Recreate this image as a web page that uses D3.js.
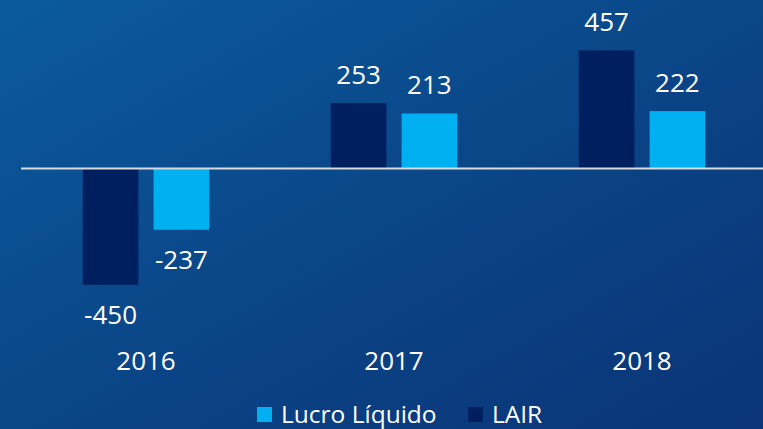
<!DOCTYPE html>
<html lang="en">

<head>
    <meta charset="utf-8">
    <style>
        body { margin: 0; overflow: hidden; }
        text { font-family: "Open Sans", sans-serif; fill: #fff; }
    </style>
</head>

<body>
    <script src="https://d3js.org/d3.v7.min.js"></script>
    <div id="my_dataviz"></div>
    <script>
        // data
        var years = ["2016", "2017", "2018"];
        var series = ["LAIR", "Lucro Líquido"];
        var lair = [-450, 253, 457];
        var lucro = [-237, 213, 222];
        var legendOrder = ["Lucro Líquido", "LAIR"];

        var colors = { "LAIR": "#001f5e", "Lucro Líquido": "#00b0f0" };

        var width = 763, height = 429;

        var svg = d3.select("#my_dataviz")
            .append("svg")
            .attr("width", width)
            .attr("height", height)

        // background gradient
        var grad = svg.append("defs").append("linearGradient")
            .attr("id", "bg")
            .attr("x1", "0%").attr("y1", "0%")
            .attr("x2", "100%").attr("y2", "100%")
        grad.append("stop").attr("offset", "0%").attr("stop-color", "#0a5b9d")
        grad.append("stop").attr("offset", "55%").attr("stop-color", "#0a4486")
        grad.append("stop").attr("offset", "100%").attr("stop-color", "#0a3477")
        svg.append("rect").attr("width", width).attr("height", height).attr("fill", "url(#bg)")

        var rows = years.map(function (y, i) {
            return { year: y, "LAIR": lair[i], "Lucro Líquido": lucro[i] };
        });

        var x0 = d3.scaleBand()
            .domain(years)
            .range([22, 766])
            .paddingInner(0.49)
            .paddingOuter(0.245)

        var x1 = d3.scaleBand()
            .domain(series)
            .range([0, x0.bandwidth()])
            .paddingInner(0.214)

        var y = d3.scaleLinear()
            .domain([-500, 500])
            .range([297.75, 39.25])

        var groups = svg.append("g")
            .selectAll("g")
            .data(rows)
            .enter()
            .append("g")
            .attr("transform", function (d) { return "translate(" + x0(d.year) + ",0)" })

        var cells = groups.selectAll("g")
            .data(function (d) { return series.map(function (k) { return { key: k, value: d[k] } }) })
            .enter()
            .append("g")

        cells.append("rect")
            .attr("x", function (d) { return x1(d.key) })
            .attr("width", x1.bandwidth())
            .attr("y", function (d) { return y(Math.max(0, d.value)) })
            .attr("height", function (d) { return Math.abs(y(d.value) - y(0)) })
            .style("fill", function (d) { return colors[d.key] })

        cells.append("text")
            .attr("x", function (d) { return x1(d.key) + x1.bandwidth() / 2 })
            .attr("y", function (d) { return d.value >= 0 ? y(d.value) - 19 : y(d.value) + 39 })
            .attr("text-anchor", "middle")
            .style("font-size", "26px")
            .text(function (d) { return d.value })

        // zero line
        svg.append("line")
            .attr("x1", 21).attr("x2", 763)
            .attr("y1", y(0)).attr("y2", y(0))
            .style("stroke", "#d9d9d9")
            .style("stroke-width", 2)

        // category labels
        svg.append("g")
            .selectAll("text")
            .data(years)
            .enter()
            .append("text")
            .attr("x", function (d) { return x0(d) + x0.bandwidth() / 2 })
            .attr("y", 370)
            .attr("text-anchor", "middle")
            .style("font-size", "26px")
            .text(function (d) { return d })

        // legend
        var legX = [257, 468];
        var legend = svg.append("g")
            .selectAll("g")
            .data(legendOrder)
            .enter()
            .append("g")
            .attr("transform", function (d, i) { return "translate(" + legX[i] + ",407)" })
        legend.append("rect")
            .attr("width", 15).attr("height", 15)
            .style("fill", function (d) { return colors[d] })
        legend.append("text")
            .attr("x", 24).attr("y", 16)
            .style("font-size", "24.5px")
            .text(function (d) { return d })
    </script>
</body>

</html>
